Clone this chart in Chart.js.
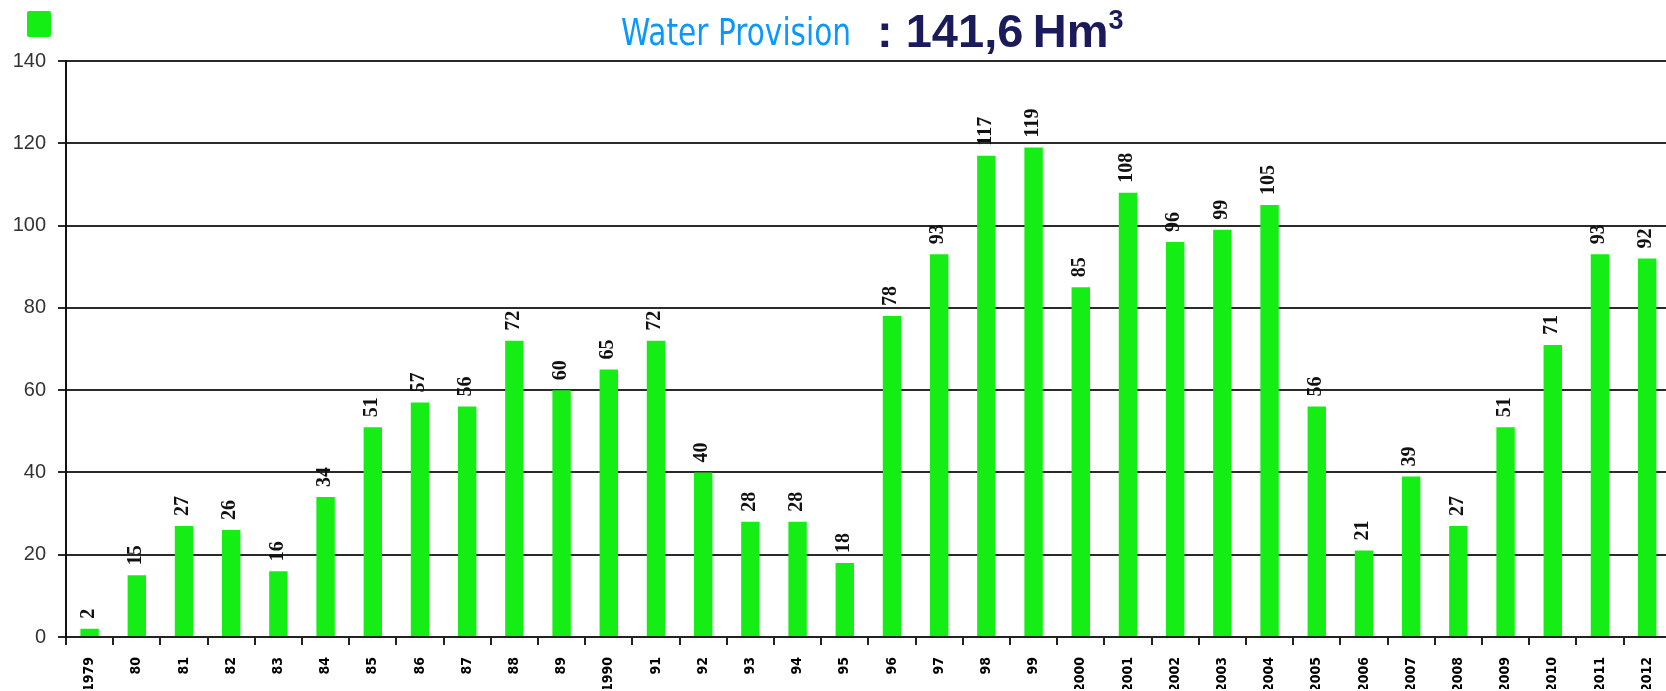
<!DOCTYPE html>
<html>
<head>
<meta charset="utf-8">
<script src="https://cdn.jsdelivr.net/npm/chart.js@4.4.0/dist/chart.umd.min.js"></script>
<style>
html, body { margin: 0; padding: 0; overflow: hidden; background: #fff; }
#wrap { position: relative; width: 1676px; height: 691px; }
#legendBox { position: absolute; left: 27px; top: 11px; width: 24px; height: 26px; background: #14ee14; border-radius: 2px; }
#t1 { position: absolute; left: 621px; top: 11px; font-family: "DejaVu Sans", sans-serif; font-size: 37px; color: #0b97fb; transform: scaleX(0.8); transform-origin: left top; white-space: nowrap; }
#t2 { position: absolute; left: 877px; top: 3px; font-family: "Liberation Sans", Arial, sans-serif; font-weight: bold; font-size: 47px; color: #1b1b5c; white-space: nowrap; }
#t2 sup { font-size: 27px; vertical-align: 18px; }
</style>
</head>
<body>
<div id="wrap">
  <canvas id="barChart"></canvas>
  <div id="legendBox"></div>
  <div id="t1">Water Provision</div>
  <div id="t2">: 141,6&thinsp;Hm<sup>3</sup></div>
</div>
<script>
// years as printed under the bars
var years = ["1979", "80", "81", "82", "83", "84", "85", "86", "87", "88", "89",
    "1990", "91", "92", "93", "94", "95", "96", "97", "98", "99",
    "2000", "2001", "2002", "2003", "2004", "2005", "2006", "2007", "2008", "2009",
    "2010", "2011", "2012"];
// water provision, Hm3
var provision = [2, 15, 27, 26, 16, 34, 51, 57, 56, 72, 60,
    65, 72, 40, 28, 28, 18, 78, 93, 117, 119,
    85, 108, 96, 99, 105, 56, 21, 39, 27, 51,
    71, 93, 92];
var yTicks = [0, 20, 40, 60, 80, 100, 120, 140];

// value written vertically above each bar
var barValues = {
    id: 'barValues',
    afterDatasetsDraw: function (chart) {
        var ctx = chart.ctx;
        var meta = chart.getDatasetMeta(0);
        ctx.save();
        ctx.fillStyle = '#111';
        ctx.font = 'bold 20px "Liberation Serif", serif';
        ctx.textAlign = 'left';
        ctx.textBaseline = 'middle';
        meta.data.forEach(function (bar, i) {
            ctx.save();
            ctx.translate(bar.x - 1, bar.y - 10);
            ctx.rotate(-Math.PI / 2);
            ctx.fillText(String(provision[i]), 0, 0);
            ctx.restore();
        });
        ctx.restore();
    }
};

var ctx = document.getElementById("barChart").getContext('2d');
var myBarChart = new Chart(ctx, {
    type: 'bar',
    data: {
        labels: years,
        datasets: [{
            label: "Water Provision",
            data: provision,
            backgroundColor: '#14ee14',
            borderWidth: 0,
            barPercentage: 0.39,
            categoryPercentage: 1
        }]
    },
    options: {
        responsive: true,
        maintainAspectRatio: false,
        animation: false,
        layout: {
            padding: { top: 61, left: 0, right: 2, bottom: 2 }
        },
        plugins: {
            legend: { display: false },
            title: { display: false },
            tooltip: { enabled: false }
        },
        scales: {
            x: {
                afterFit: function (axis) { axis.height = 52; },
                grid: {
                    display: true,
                    drawOnChartArea: false,
                    drawTicks: true,
                    tickLength: 8,
                    color: '#222',
                    lineWidth: 2
                },
                border: { display: true, color: '#222', width: 2 },
                ticks: {
                    autoSkip: false,
                    minRotation: 90,
                    maxRotation: 90,
                    padding: 12,
                    color: '#000',
                    font: { family: '"DejaVu Sans Condensed", "DejaVu Sans", sans-serif', size: 14, weight: 'bold' }
                }
            },
            y: {
                min: 0,
                max: 140,
                afterFit: function (axis) { axis.width = 66; },
                afterBuildTicks: function (axis) {
                    axis.ticks = yTicks.map(function (v) { return { value: v }; });
                },
                grid: {
                    color: '#2a2a2a',
                    lineWidth: 2,
                    tickLength: 8
                },
                border: { display: true, color: '#111', width: 2 },
                ticks: {
                    padding: 12,
                    color: '#333',
                    font: { family: '"Liberation Sans", Arial, sans-serif', size: 20 }
                }
            }
        }
    },
    plugins: [barValues]
});
</script>
</body>
</html>
